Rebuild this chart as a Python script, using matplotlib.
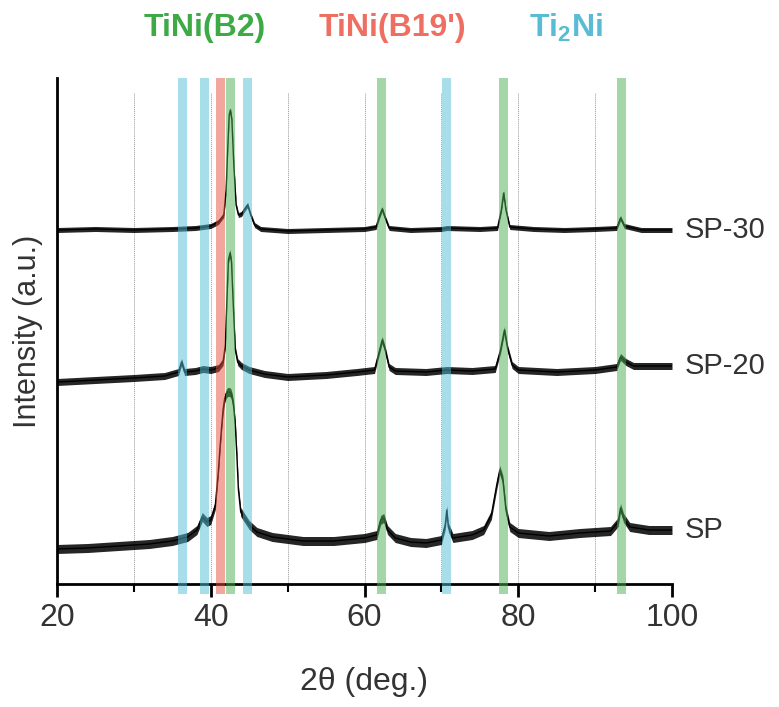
"""XRD patterns of SP, SP-20 and SP-30 with phase reference bands."""

import numpy as np
import matplotlib
matplotlib.use("Agg")
import matplotlib.pyplot as plt  # noqa: E402

# ---------------------------------------------------------------------------
# Data (2theta in deg., intensity in arbitrary offset units)
# ---------------------------------------------------------------------------

sp30_2theta = [20, 25, 30, 35, 38, 40, 41, 41.7, 42.0, 42.2, 42.4, 42.55, 42.75,
               43.0, 43.3, 43.6, 44.0, 44.5, 44.8, 45.2, 45.7, 46.5, 50, 55, 60,
               61.5, 62.0, 62.3, 62.6, 63.2, 66, 70, 70.7, 75, 77.3, 77.8, 78.1,
               78.4, 78.9, 82, 86, 90, 92.8, 93.3, 93.8, 96, 100]
sp30_int = [354, 355, 354, 355, 356, 358, 362, 369, 394, 434, 469, 474, 464,
            419, 379, 369, 370, 376, 379, 369, 359, 355, 353, 354, 355,
            357, 369, 375, 368, 356, 354, 355, 356, 355, 356, 374, 391,
            374, 357, 355, 354, 355, 356, 366, 358, 354, 354]

sp20_2theta = [20, 25, 30, 34, 35.8, 36.2, 36.6, 38, 39, 40, 41, 41.6, 41.9,
               42.1, 42.3, 42.5, 42.7, 42.9, 43.2, 43.5, 44, 45, 47, 50, 55,
               59, 61.3, 61.9, 62.3, 62.7, 63.2, 64, 68, 70.7, 74, 77, 77.7,
               78.2, 78.6, 79.2, 80, 85, 90, 92.8, 93.3, 94, 95, 100]
sp20_int = [202, 204, 206, 208, 212, 222, 212, 213, 215, 214, 216, 222, 239,
            284, 324, 331, 322, 284, 234, 222, 218, 214, 210, 207, 209,
            212, 214, 232, 244, 234, 217, 213, 212, 214, 213, 215, 234,
            254, 236, 219, 214, 212, 214, 217, 227, 222, 218, 218]

sp_2theta = [20, 24, 28, 32, 35, 37, 38.2, 38.9, 39.5, 40.0, 40.6, 41.0, 41.2,
             41.4, 41.6, 41.8, 42.0, 42.2, 42.4, 42.6, 42.8, 43.0, 43.2, 43.4,
             43.6, 43.9, 44.4, 45, 46, 48, 52,
             56, 60, 61.6, 62.1, 62.5, 63, 64, 66, 68, 70, 70.5, 70.7, 70.9,
             71.5, 74, 75.5, 76.5, 77.2, 77.6, 78.0, 78.4, 78.9, 80, 84, 88,
             92, 93.0, 93.3, 93.7, 94.5, 97, 100]
sp_int = [35, 36, 38, 40, 43, 47, 54, 67, 62, 64, 79, 114, 136,
          156, 174, 185, 190, 192, 192, 191, 186, 176, 158, 128,
          94, 72, 66, 59, 52, 47, 43,
          43, 46, 49, 64, 66, 54, 46, 42, 41, 44, 59, 74, 57,
          46, 49, 54, 69, 99, 114, 104, 74, 57, 51, 48, 51,
          53, 62, 76, 66, 57, 54, 54]

sample_names = ["SP-30", "SP-20", "SP"]

# Phase reference positions (2theta)
b2_pos = [42.6, 62.2, 78.1, 93.4]
b19_pos = [41.3]
ti2ni_pos = [36.3, 39.2, 44.8, 70.7]

phase_names = ["TiNi(B2)", "TiNi(B19')", r"Ti$\mathregular{_2}$Ni"]

# ---------------------------------------------------------------------------
# Style
# ---------------------------------------------------------------------------

GREEN = "#4caf50"
RED = "#e4503f"
CYAN = "#52bcd6"
TEXT_GREEN = "#3daa45"
TEXT_RED = "#ee6e62"
TEXT_CYAN = "#58bcd4"
FONT = ["Liberation Sans", "DejaVu Sans"]
BAND_W = 1.15

plt.rcParams["font.family"] = FONT
plt.rcParams["text.color"] = "#333333"

fig = plt.figure(figsize=(7.79, 7.07), dpi=100)
ax = fig.add_axes([57 / 779, 1 - 584 / 707, 615 / 779, 506 / 707])

ax.set_xlim(20, 100)
ax.set_ylim(0, 506)

# dotted vertical guides
for gx in range(30, 100, 10):
    ax.axvline(gx, ymin=0, ymax=0.97, color="#999999", lw=0.7,
               ls=(0, (1, 1)), zorder=1)

# patterns: thin line plus a dark band standing in for the counting noise
traces = [(sp30_2theta, sp30_int, 2.5),
          (sp20_2theta, sp20_int, 3.5),
          (sp_2theta, sp_int, 4.5)]
for (tx, ty, fuzz), name in zip(traces, sample_names):
    tx = np.asarray(tx, dtype=float)
    ty = np.asarray(ty, dtype=float)
    ax.fill_between(tx, ty - fuzz, ty + fuzz, color="black", lw=0,
                    alpha=0.85, zorder=3)
    ax.plot(tx, ty, color="black", lw=1.0, zorder=4)
    ax.text(101.6, ty[-1], name, ha="left", va="center", fontsize=21,
            color="#333333", clip_on=False)

# phase bands drawn over the patterns, as in the original figure
for pos_list, col in [(ti2ni_pos, CYAN), (b19_pos, RED), (b2_pos, GREEN)]:
    for p in pos_list:
        ax.axvspan(p - BAND_W / 2, p + BAND_W / 2, ymin=-0.02, ymax=1.0,
                   color=col, alpha=0.5, lw=0, zorder=5, clip_on=False)

# axes styling
for side in ["top", "right"]:
    ax.spines[side].set_visible(False)
ax.spines["left"].set_linewidth(2.0)
ax.spines["bottom"].set_linewidth(2.0)
ax.set_yticks([])
ax.set_xticks([20, 40, 60, 80, 100])
ax.set_xticks([30, 50, 70, 90], minor=True)
ax.tick_params(axis="x", which="major", direction="out", length=9, width=2,
               labelsize=23, labelcolor="#333333", pad=5)
ax.tick_params(axis="x", which="minor", direction="out", length=6, width=1.5)

ax.set_xlabel("2θ (deg.)", fontsize=23, color="#333333", labelpad=24)
ax.set_ylabel("Intensity (a.u.)", fontsize=22, color="#333333", labelpad=10)

# phase legend on top
for name, xc, col in zip(phase_names, [205 / 779, 392 / 779, 566 / 779],
                         [TEXT_GREEN, TEXT_RED, TEXT_CYAN]):
    fig.text(xc, 1 - 28 / 707, name, ha="center", va="center", fontsize=23,
             fontweight="bold", color=col)

fig.savefig("out.png", dpi=100)
